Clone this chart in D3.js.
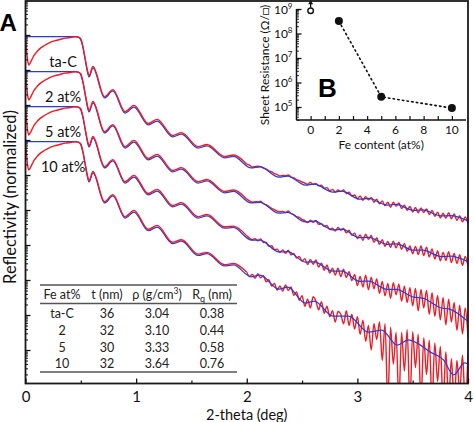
<!DOCTYPE html>
<html><head><meta charset="utf-8">
<script src="https://cdn.jsdelivr.net/npm/d3@7"></script>
<style>
html,body{margin:0;padding:0;background:#fff;}
svg{display:block;font-family:Lato,"Open Sans",sans-serif;}
</style></head><body>
<svg id="chart" width="474" height="422"></svg>
<script>
// ---------------- DATA (log10 of normalized reflectivity, offset per sample) ----------------
const fitAngle = [0,0.3,0.45,0.48,0.50,0.52,0.54,0.56,0.575,0.61,0.714,0.79,0.90,0.98,1.11,1.19,1.33,1.41,1.56,1.64,1.80,1.88,2.04,2.12,2.29,2.37,2.53,2.61,2.78,2.86,3.02,3.10,3.27,3.35,3.51,3.59,3.76,3.84,4.0];
const fitTaC = [-0.05,-0.05,-0.05,-0.07,-0.14,-0.37,-0.71,-1.06,-1.20,-0.94,-1.80,-1.60,-2.23,-2.06,-2.57,-2.46,-2.91,-2.83,-3.23,-3.17,-3.51,-3.47,-3.80,-3.77,-4.06,-4.03,-4.29,-4.26,-4.49,-4.46,-4.69,-4.67,-4.86,-4.84,-5.01,-5.00,-5.17,-5.16,-5.31];
const fit2 = [-1.05,-1.05,-1.05,-1.07,-1.14,-1.37,-1.71,-2.06,-2.20,-1.94,-2.80,-2.60,-3.23,-3.06,-3.57,-3.46,-3.91,-3.83,-4.23,-4.17,-4.51,-4.47,-4.80,-4.78,-5.09,-5.07,-5.34,-5.32,-5.57,-5.55,-5.79,-5.78,-5.98,-5.97,-6.15,-6.15,-6.33,-6.32,-6.48];
const fit5 = [-2.05,-2.05,-2.05,-2.07,-2.14,-2.37,-2.71,-3.06,-3.20,-2.94,-3.80,-3.60,-4.23,-4.06,-4.57,-4.46,-4.91,-4.83,-5.23,-5.17,-5.52,-5.50,-5.86,-5.86,-6.20,-6.19,-6.49,-6.48,-6.75,-6.75,-7.04,-7.03,-7.27,-7.27,-7.49,-7.52,-7.80,-7.84,-8.19];
const fit10Angle = [0,0.3,0.45,0.48,0.50,0.52,0.54,0.56,0.575,0.61,0.714,0.79,0.90,0.98,1.11,1.19,1.33,1.41,1.56,1.64,1.80,1.88,2.04,2.12,2.29,2.37,2.53,2.61,2.78,2.92,3.10,3.22,3.36,3.46,3.66,3.78,3.87,3.97,4.0];
const fit10 = [-3.05,-3.05,-3.05,-3.07,-3.14,-3.37,-3.71,-4.06,-4.20,-3.94,-4.80,-4.60,-5.23,-5.06,-5.59,-5.49,-5.96,-5.89,-6.30,-6.25,-6.60,-6.57,-6.91,-6.86,-7.26,-7.20,-7.66,-7.60,-8.03,-8.03,-8.49,-8.43,-8.86,-8.71,-9.06,-9.29,-9.71,-9.37,-9.40];

const measAngle = [0,0.01,0.02,0.03,0.04,0.06,0.08,0.1,0.13,0.17,0.21,0.26,0.31,0.36,0.41,0.45,0.48,0.50,0.52,0.54,0.56,0.575,0.61,0.714,0.79,0.90,0.98,1.11,1.19,1.33,1.41,1.56,1.64,1.80,1.88,
 2,2.025,2.05,2.075,2.1,2.125,2.15,2.175,2.2,2.225,
 2.25,2.275,2.3,2.325,2.35,2.375,2.4,2.425,2.45,2.475,
 2.5,2.525,2.55,2.575,2.6,2.625,2.65,2.675,2.7,2.725,
 2.75,2.775,2.8,2.825,2.85,2.875,2.9,2.925,2.95,2.975,
 3,3.025,3.05,3.075,3.1,3.125,3.15,3.175,3.2,3.225,
 3.25,3.275,3.3,3.325,3.35,3.375,3.4,3.425,3.45,3.475,
 3.5,3.525,3.55,3.575,3.6,3.625,3.65,3.675,3.7,3.725,
 3.75,3.775,3.8,3.825,3.85,3.875,3.9,3.925,3.95,3.975,
 4];
const measTaC = [-0.06,-0.43,-0.74,-0.86,-0.81,-0.69,-0.57,-0.49,-0.39,-0.30,-0.23,-0.17,-0.13,-0.09,-0.07,-0.05,-0.06,-0.11,-0.34,-0.69,-1.01,-1.16,-0.90,-1.76,-1.56,-2.19,-2.01,-2.53,-2.41,-2.87,-2.79,-3.19,-3.13,-3.47,-3.43,
 -3.69,-3.72,-3.77,-3.76,-3.75,-3.76,-3.80,-3.83,-3.88,-3.91,
 -3.96,-3.99,-4.03,-4.01,-4.02,-4.00,-4.06,-4.08,-4.13,-4.16,
 -4.20,-4.23,-4.27,-4.21,-4.27,-4.24,-4.31,-4.29,-4.38,-4.36,
 -4.45,-4.41,-4.49,-4.43,-4.47,-4.43,-4.53,-4.49,-4.60,-4.57,
 -4.68,-4.60,-4.72,-4.62,-4.71,-4.64,-4.78,-4.69,-4.82,-4.74,
 -4.88,-4.78,-4.92,-4.78,-4.89,-4.80,-4.96,-4.86,-5.01,-4.90,
 -5.06,-4.93,-5.08,-4.94,-5.07,-4.97,-5.13,-5.01,-5.18,-5.06,
 -5.23,-5.09,-5.24,-5.08,-5.25,-5.11,-5.30,-5.16,-5.34,-5.20,
 -5.38];
const meas2 = [-1.06,-1.43,-1.74,-1.86,-1.81,-1.69,-1.57,-1.49,-1.39,-1.30,-1.23,-1.17,-1.13,-1.09,-1.07,-1.05,-1.06,-1.11,-1.34,-1.69,-2.01,-2.16,-1.90,-2.76,-2.56,-3.19,-3.01,-3.53,-3.41,-3.87,-3.79,-4.19,-4.13,-4.47,-4.43,
 -4.69,-4.74,-4.78,-4.76,-4.77,-4.75,-4.82,-4.85,-4.90,-4.95,
 -4.99,-5.03,-5.05,-5.04,-5.07,-5.03,-5.10,-5.13,-5.19,-5.21,
 -5.27,-5.30,-5.36,-5.29,-5.35,-5.30,-5.41,-5.39,-5.47,-5.44,
 -5.56,-5.52,-5.60,-5.50,-5.58,-5.53,-5.65,-5.58,-5.72,-5.66,
 -5.82,-5.71,-5.87,-5.69,-5.84,-5.73,-5.92,-5.79,-5.98,-5.85,
 -6.04,-5.90,-6.07,-5.89,-6.08,-5.92,-6.12,-5.96,-6.18,-6.03,
 -6.25,-6.04,-6.27,-6.03,-6.30,-6.06,-6.34,-6.11,-6.40,-6.17,
 -6.45,-6.21,-6.44,-6.19,-6.50,-6.24,-6.53,-6.28,-6.58,-6.33,
 -6.62];
const meas5 = [-2.06,-2.43,-2.74,-2.86,-2.81,-2.69,-2.57,-2.49,-2.39,-2.30,-2.23,-2.17,-2.13,-2.09,-2.07,-2.05,-2.06,-2.11,-2.34,-2.69,-3.01,-3.16,-2.90,-3.76,-3.56,-4.19,-4.01,-4.53,-4.41,-4.87,-4.79,-5.19,-5.13,-5.48,-5.46,
 -5.74,-5.80,-5.85,-5.82,-5.88,-5.83,-5.93,-5.92,-6.04,-6.02,
 -6.13,-6.12,-6.21,-6.14,-6.24,-6.15,-6.28,-6.24,-6.37,-6.33,
 -6.46,-6.39,-6.56,-6.41,-6.55,-6.43,-6.63,-6.52,-6.72,-6.57,
 -6.80,-6.66,-6.86,-6.66,-6.90,-6.69,-6.93,-6.76,-7.02,-6.84,
 -7.16,-6.90,-7.20,-6.86,-7.28,-6.92,-7.25,-6.97,-7.38,-7.04,
 -7.45,-7.10,-7.52,-7.08,-7.42,-7.12,-7.60,-7.18,-7.64,-7.22,
 -7.74,-7.24,-7.88,-7.27,-7.80,-7.30,-7.98,-7.36,-8.04,-7.44,
 -8.14,-7.50,-8.28,-7.55,-8.20,-7.64,-8.44,-7.72,-8.54,-7.80,
 -8.64];
const meas10 = [-3.06,-3.43,-3.74,-3.86,-3.81,-3.69,-3.57,-3.49,-3.39,-3.30,-3.23,-3.17,-3.13,-3.09,-3.07,-3.05,-3.06,-3.11,-3.34,-3.69,-4.01,-4.16,-3.90,-4.76,-4.56,-5.19,-5.01,-5.55,-5.44,-5.92,-5.85,-6.26,-6.21,-6.56,-6.53,
 -6.78,-6.90,-6.84,-6.95,-6.82,-6.94,-6.88,-7.05,-6.99,-7.17,
 -7.10,-7.29,-7.17,-7.32,-7.14,-7.30,-7.20,-7.44,-7.34,-7.58,
 -7.45,-7.75,-7.55,-7.80,-7.48,-7.60,-7.85,-7.62,-7.95,-7.75,
 -8.05,-7.88,-8.20,-7.90,-7.98,-8.25,-7.88,-8.30,-7.98,-8.40,
 -8.05,-8.55,-8.15,-8.75,-8.30,-9.00,-8.25,-8.70,-8.20,-9.30,
 -8.25,-10.5,-8.35,-9.40,-8.50,-10.5,-8.50,-9.60,-8.42,-10.5,
 -8.48,-9.50,-8.55,-10.5,-8.65,-9.70,-8.72,-10.5,-8.80,-9.90,
 -8.90,-10.5,-9.05,-10.5,-9.25,-10.5,-9.30,-10.2,-9.15,-10.5,
 -9.10];

const sampleNames = ["ta-C","2 at%","5 at%","10 at%"];
const xTicks = [0,1,2,3,4];
const xMinorTicks = [0.5,1.5,2.5,3.5];

const tableHeader = ["Fe at%","t (nm)","ρ (g/cm","R"];
const tableFe = ["ta-C","2","5","10"];
const tableT = ["36","32","30","32"];
const tableRho = ["3.04","3.10","3.33","3.64"];
const tableRq = ["0.38","0.44","0.58","0.76"];

const feContent = [0,2,5,10];
const sheetRes = [8.5e8,3.2e8,2.6e5,9e4];
const lowerBound = [true,false,false,false];
const insetXTicks = [0,1,2,3,4,5,6,7,8,9,10];
const insetXLabels = [0,2,4,6,8,10];
const insetExps = [5,6,7,8,9];

// ---------------- DRAWING ----------------
const RED = "#ee1c25", BLUE = "#2b3bd8";
const svg = d3.select("#chart");
const L = 25.5, R = 468, T = 1, B = 383.5;
const x = d3.scaleLinear().domain([0,4]).range([L,R]);
const y = d3.scaleLog().domain([Math.pow(10,-9.957), Math.pow(10,0.971)]).range([B,T]);
const p10 = v => Math.pow(10,v);

svg.append("defs").append("clipPath").attr("id","clip")
  .append("rect").attr("x",L).attr("y",T).attr("width",R-L).attr("height",B-T);

const lineGen = d3.line().x(d=>x(d[0])).y(d=>y(p10(d[1]))).curve(d3.curveMonotoneX);
const plot = svg.append("g").attr("clip-path","url(#clip)");
const measured = [measTaC,meas2,meas5,meas10].map(arr=>measAngle.map((a,i)=>[a,arr[i]]).filter(d=>d[1]!==undefined));
const splitAt = measAngle.indexOf(2);

// noisy (high-angle) part of measured data underneath the fits
measured.forEach(pts=>{
  plot.append("path").datum(pts.slice(splitAt))
    .attr("d",lineGen).attr("fill","none").attr("stroke",RED).attr("stroke-width",1.4).attr("stroke-linejoin","round");
});
[[fitAngle,fitTaC],[fitAngle,fit2],[fitAngle,fit5],[fit10Angle,fit10]].forEach(([ang,arr])=>{
  plot.append("path")
    .datum(ang.map((a,i)=>[a,arr[i]]))
    .attr("d",lineGen).attr("fill","none").attr("stroke",BLUE).attr("stroke-width",1.25);
});
// smooth (low-angle) part of measured data on top
measured.forEach(pts=>{
  plot.append("path").datum(pts.slice(0,splitAt+1))
    .attr("d",lineGen).attr("fill","none").attr("stroke",RED).attr("stroke-width",1.4).attr("stroke-linejoin","round");
});

// sample labels under each plateau
[fitTaC,fit2,fit5,fit10].forEach((arr,i)=>{
  svg.append("text").attr("x",x(0.34)).attr("y",y(p10(arr[0]))+30)
    .attr("text-anchor","middle").attr("font-size",14.5).attr("fill","#111").text(sampleNames[i]);
});

// table
const colX = [62,107,157,212];
const tg = svg.append("g").attr("fill","#222").attr("font-size",12.5).attr("text-anchor","middle");
[285,303.5,372].forEach(yy=>tg.append("line").attr("x1",40).attr("x2",237).attr("y1",yy).attr("y2",yy).attr("stroke","#555").attr("stroke-width",1.4));
tg.append("text").attr("x",colX[0]).attr("y",299).text(tableHeader[0]);
tg.append("text").attr("x",colX[1]).attr("y",299).text(tableHeader[1]);
const rh = tg.append("text").attr("x",colX[2]).attr("y",299);
rh.append("tspan").text(tableHeader[2]);
rh.append("tspan").attr("dy",-5).attr("font-size",8.5).text("3");
rh.append("tspan").attr("dy",5).text(")");
const rq = tg.append("text").attr("x",colX[3]).attr("y",299);
rq.append("tspan").text(tableHeader[3]);
rq.append("tspan").attr("dy",3).attr("font-size",9).text("q");
rq.append("tspan").attr("dy",-3).text(" (nm)");
const rowY = [317.5,334.5,351.5,367.5];
tableFe.forEach((f,i)=>{
  [f,tableT[i],tableRho[i],tableRq[i]].forEach((s,j)=>tg.append("text").attr("x",colX[j]).attr("y",rowY[i]).text(s));
});

// inset background
svg.append("rect").attr("x",255).attr("y",T).attr("width",R-255).attr("height",150).attr("fill","#fff");

// main frame
svg.append("rect").attr("x",L).attr("y",T).attr("width",R-L).attr("height",B-T)
  .attr("fill","none").attr("stroke","#1a1a1a").attr("stroke-width",1.8);

// main axes ticks
const ax = svg.append("g").attr("transform",`translate(0,${B})`)
  .call(d3.axisBottom(x).tickValues(xTicks).tickSizeInner(-5).tickSizeOuter(0).tickPadding(8).tickFormat(d3.format("d")));
ax.select(".domain").remove();
ax.selectAll("text").attr("font-size",15).attr("font-family","Lato,sans-serif").attr("fill","#111");
ax.selectAll("line").attr("stroke","#111").attr("stroke-width",1.3);
const axm = svg.append("g").attr("transform",`translate(0,${B})`)
  .call(d3.axisBottom(x).tickValues(xMinorTicks).tickSizeInner(-3).tickSizeOuter(0).tickFormat(""));
axm.select(".domain").remove();
axm.selectAll("line").attr("stroke","#111").attr("stroke-width",1.2);

const majorY = [], minorY = [];
for(let e=-10;e<=0;e++){ for(let k=1;k<=9;k++){ const v=k*Math.pow(10,e); if(v>=y.domain()[0]&&v<=y.domain()[1]){ (k===1?majorY:minorY).push(v);} } }
const ay = svg.append("g").attr("transform",`translate(${L},0)`)
  .call(d3.axisLeft(y).tickValues(majorY).tickSizeInner(-5).tickSizeOuter(0).tickFormat(""));
ay.select(".domain").remove();
ay.selectAll("line").attr("stroke","#111").attr("stroke-width",1.3);
const aym = svg.append("g").attr("transform",`translate(${L},0)`)
  .call(d3.axisLeft(y).tickValues(minorY).tickSizeInner(-2.5).tickSizeOuter(0).tickFormat(""));
aym.select(".domain").remove();
aym.selectAll("line").attr("stroke","#111").attr("stroke-width",1);

svg.append("text").attr("x",L+(R-L)/2).attr("y",419.5).attr("text-anchor","middle").attr("font-size",14.5).attr("fill","#111").text("2-theta (deg)");
svg.append("text").attr("transform","translate(16,197) rotate(-90)").attr("text-anchor","middle").attr("font-size",16.5).attr("fill","#111").text("Reflectivity (normalized)");
svg.append("text").attr("x",-0.5).attr("y",31).attr("font-size",24).attr("font-weight","bold").attr("font-family","Liberation Sans,Arial,sans-serif").text("A");

// ---------------- INSET ----------------
const ix = d3.scaleLinear().domain([-1,11]).range([296.5,466]);
const iy = d3.scaleLog().domain([Math.pow(10,4.469),1e9]).range([120,9]);
const ig = svg.append("g");
ig.append("line").attr("x1",ix(-1)).attr("x2",ix(-1)).attr("y1",iy(1e9)).attr("y2",120).attr("stroke","#111").attr("stroke-width",1.5);
ig.append("line").attr("x1",ix(-1)).attr("x2",466).attr("y1",120).attr("y2",120).attr("stroke","#111").attr("stroke-width",1.5);
const ixa = ig.append("g").attr("transform","translate(0,120)")
  .call(d3.axisBottom(ix).tickValues(insetXTicks).tickSizeInner(-4).tickSizeOuter(0).tickFormat(""));
ixa.select(".domain").remove();
ixa.selectAll("line").attr("stroke","#111").attr("stroke-width",1.2);
insetXLabels.forEach(v=>ig.append("text").attr("x",ix(v)).attr("y",133.5).attr("text-anchor","middle").attr("font-size",12).attr("fill","#111").text(v));
const iMaj=[], iMin=[];
for(let e=4;e<=8;e++){ for(let k=1;k<=9;k++){ const v=k*Math.pow(10,e); if(v>=iy.domain()[0]&&v<=1e9){ (k===1?iMaj:iMin).push(v);} } }
iMaj.push(1e9);
const iya = ig.append("g").attr("transform",`translate(${ix(-1)},0)`)
  .call(d3.axisLeft(iy).tickValues(iMaj).tickSizeInner(-5).tickSizeOuter(0).tickFormat(""));
iya.select(".domain").remove();
iya.selectAll("line").attr("stroke","#111").attr("stroke-width",1.3);
const iyam = ig.append("g").attr("transform",`translate(${ix(-1)},0)`)
  .call(d3.axisLeft(iy).tickValues(iMin).tickSizeInner(-2.5).tickSizeOuter(0).tickFormat(""));
iyam.select(".domain").remove();
iyam.selectAll("line").attr("stroke","#111").attr("stroke-width",0.9);
insetExps.forEach(e=>{
  const t = ig.append("text").attr("x",292.5).attr("y",iy(Math.pow(10,e))+4.5).attr("text-anchor","end").attr("font-size",12).attr("fill","#111");
  t.append("tspan").text("10");
  t.append("tspan").attr("dy",-5).attr("font-size",8).text(e);
});
ig.append("text").attr("transform","translate(269,65) rotate(-90)").attr("text-anchor","middle").attr("font-size",12).attr("fill","#111").text("Sheet Resistance (Ω/□)");
ig.append("text").attr("x",ix(5)).attr("y",148.5).attr("text-anchor","middle").attr("font-size",12).attr("fill","#111").text("Fe content (at%)");

const measuredPts = feContent.map((f,i)=>[f,sheetRes[i],lowerBound[i]]);
ig.append("path").datum(measuredPts.filter(d=>!d[2]))
  .attr("d",d3.line().x(d=>ix(d[0])).y(d=>iy(d[1])))
  .attr("fill","none").attr("stroke","#111").attr("stroke-width",1.6).attr("stroke-dasharray","1.5,3.2").attr("stroke-linecap","round");
measuredPts.forEach(d=>{
  if(d[2]){
    const cx=ix(d[0]), cy=iy(d[1]);
    ig.append("circle").attr("cx",cx).attr("cy",cy).attr("r",2.8).attr("fill","#fff").attr("stroke","#111").attr("stroke-width",1.4);
    ig.append("line").attr("x1",cx).attr("x2",cx).attr("y1",cy-3).attr("y2",cy-7).attr("stroke","#111").attr("stroke-width",1.3);
    ig.append("path").attr("d",`M${cx-2.5},${cy-6.5}L${cx+2.5},${cy-6.5}L${cx},${cy-10.5}Z`).attr("fill","#111");
  } else {
    ig.append("circle").attr("cx",ix(d[0])).attr("cy",iy(d[1])).attr("r",4).attr("fill","#111");
  }
});
ig.append("text").attr("x",318).attr("y",97).attr("font-size",26).attr("font-weight","bold").attr("font-family","Liberation Sans,Arial,sans-serif").text("B");
</script></body></html>
